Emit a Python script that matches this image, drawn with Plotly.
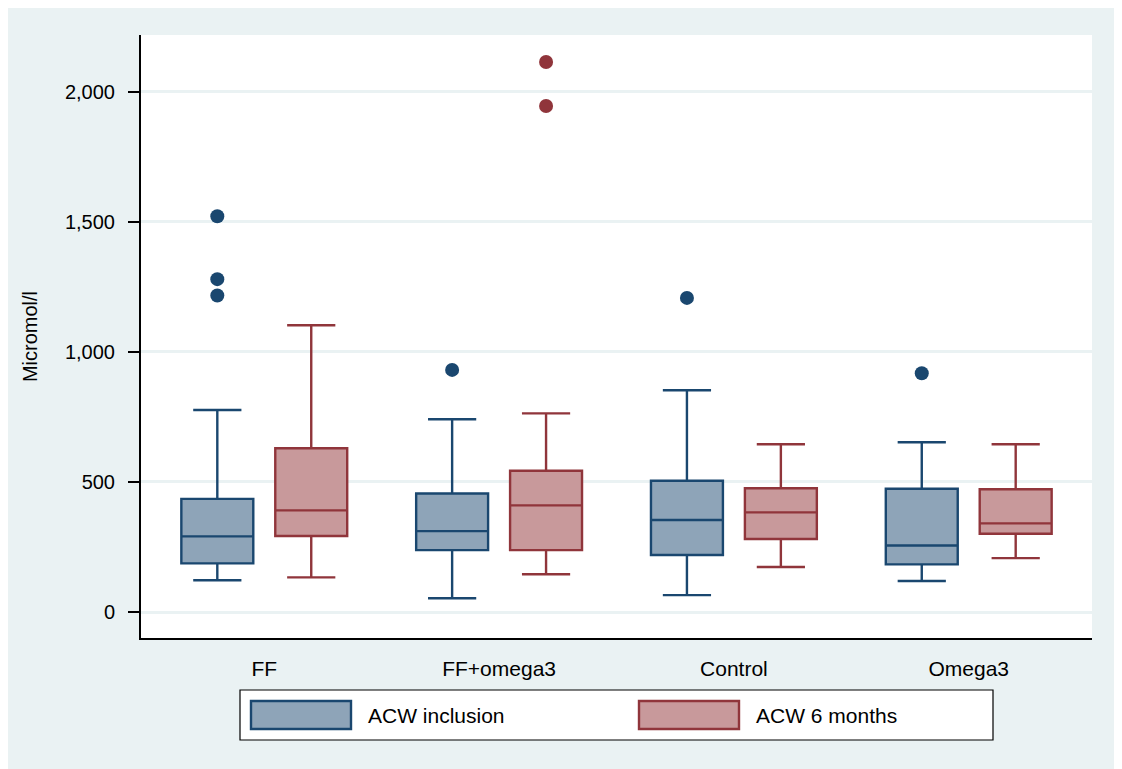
import plotly.graph_objects as go

categories = ["FF", "FF+omega3", "Control", "Omega3"]
series_names = ["ACW inclusion", "ACW 6 months"]

# ACW inclusion
incl_lower = [122, 53, 65, 119]
incl_q1 = [187, 238, 219, 183]
incl_median = [291, 311, 354, 256]
incl_q3 = [435, 456, 505, 474]
incl_upper = [777, 741, 853, 653]
incl_out_cat = ["FF", "FF", "FF", "FF+omega3", "Control", "Omega3"]
incl_out_val = [1522, 1280, 1217, 931, 1208, 918]

# ACW 6 months
m6_lower = [133, 145, 173, 207]
m6_q1 = [292, 238, 281, 301]
m6_median = [391, 410, 383, 341]
m6_q3 = [630, 543, 476, 472]
m6_upper = [1103, 764, 645, 645]
m6_out_cat = ["FF+omega3", "FF+omega3"]
m6_out_val = [2115, 1946]

y_ticks = [0, 500, 1000, 1500, 2000]

blue_line = "#1a476f"
blue_fill = "#8ea4b8"
red_line = "#90353b"
red_fill = "#c8999b"
bg = "#eaf2f3"
FONT = "Liberation Sans, Arial, sans-serif"

fig = go.Figure()
fig.add_trace(go.Box(
    x=categories, q1=incl_q1, median=incl_median, q3=incl_q3,
    lowerfence=incl_lower, upperfence=incl_upper,
    name=series_names[0], offsetgroup="a", boxpoints=False,
    fillcolor=blue_fill, line=dict(color=blue_line, width=2.4),
    whiskerwidth=0.67, showlegend=False))
fig.add_trace(go.Box(
    x=categories, q1=m6_q1, median=m6_median, q3=m6_q3,
    lowerfence=m6_lower, upperfence=m6_upper,
    name=series_names[1], offsetgroup="b", boxpoints=False,
    fillcolor=red_fill, line=dict(color=red_line, width=2.4),
    whiskerwidth=0.67, showlegend=False))
fig.add_trace(go.Scatter(
    x=incl_out_cat, y=incl_out_val, mode="markers", offsetgroup="a",
    marker=dict(color=blue_line, size=14), showlegend=False, name=series_names[0]))
fig.add_trace(go.Scatter(
    x=m6_out_cat, y=m6_out_val, mode="markers", offsetgroup="b",
    marker=dict(color=red_line, size=14), showlegend=False, name=series_names[1]))

# figure geometry in pixels (page has an 8px body margin)
OFF = 8
W, H = 1112, 761
L, R, T, B = 133, 28, 27, 131
pw, ph = W - L - R, H - T - B

def px(x):
    return (x - OFF - L) / pw

def py(y):
    return (H - B - (y - OFF)) / ph

shapes = [
    # legend frame
    dict(type="rect", xref="paper", yref="paper", x0=px(240), x1=px(993), y0=py(690), y1=py(740),
         fillcolor="white", line=dict(color="black", width=1.2)),
    dict(type="rect", xref="paper", yref="paper", x0=px(251), x1=px(351), y0=py(701), y1=py(729),
         fillcolor=blue_fill, line=dict(color=blue_line, width=2.4)),
    dict(type="rect", xref="paper", yref="paper", x0=px(639), x1=px(739), y0=py(701), y1=py(729),
         fillcolor=red_fill, line=dict(color=red_line, width=2.4)),
]
annotations = [
    dict(xref="paper", yref="paper", x=px(366), y=py(715), text=series_names[0], showarrow=False,
         xanchor="left", yanchor="middle", font=dict(family=FONT, size=21, color="black")),
    dict(xref="paper", yref="paper", x=px(754), y=py(715), text=series_names[1], showarrow=False,
         xanchor="left", yanchor="middle", font=dict(family=FONT, size=21, color="black")),
]

fig.update_layout(
    width=W, height=H,
    margin=dict(l=L, r=R, t=T, b=B, autoexpand=False),
    paper_bgcolor=bg, plot_bgcolor="white",
    boxmode="group", boxgap=0.2, boxgroupgap=0.234,
    scattermode="group", scattergap=0.2,
    shapes=shapes, annotations=annotations,
    showlegend=False,
    font=dict(family=FONT, size=20, color="black"),
)
fig.update_xaxes(
    type="category", categoryorder="array", categoryarray=categories,
    range=[-0.525, 3.525], showline=True, linecolor="black", linewidth=2,
    showgrid=False, zeroline=False, ticks="", ticklabelstandoff=11,
    tickfont=dict(family=FONT, size=21, color="black"), mirror=False,
)
fig.update_yaxes(
    range=[-100, 2219], tickvals=y_ticks, tickformat=",",
    showline=True, linecolor="black", linewidth=2,
    showgrid=True, gridcolor=bg, gridwidth=2.5, zeroline=False,
    ticks="outside", ticklen=11, tickwidth=2, tickcolor="black",
    ticklabelstandoff=9,
    tickfont=dict(family=FONT, size=20, color="black"),
    title=dict(text="Micromol/l", font=dict(family=FONT, size=20, color="black"), standoff=22),
)

fig.write_html("out.html")
